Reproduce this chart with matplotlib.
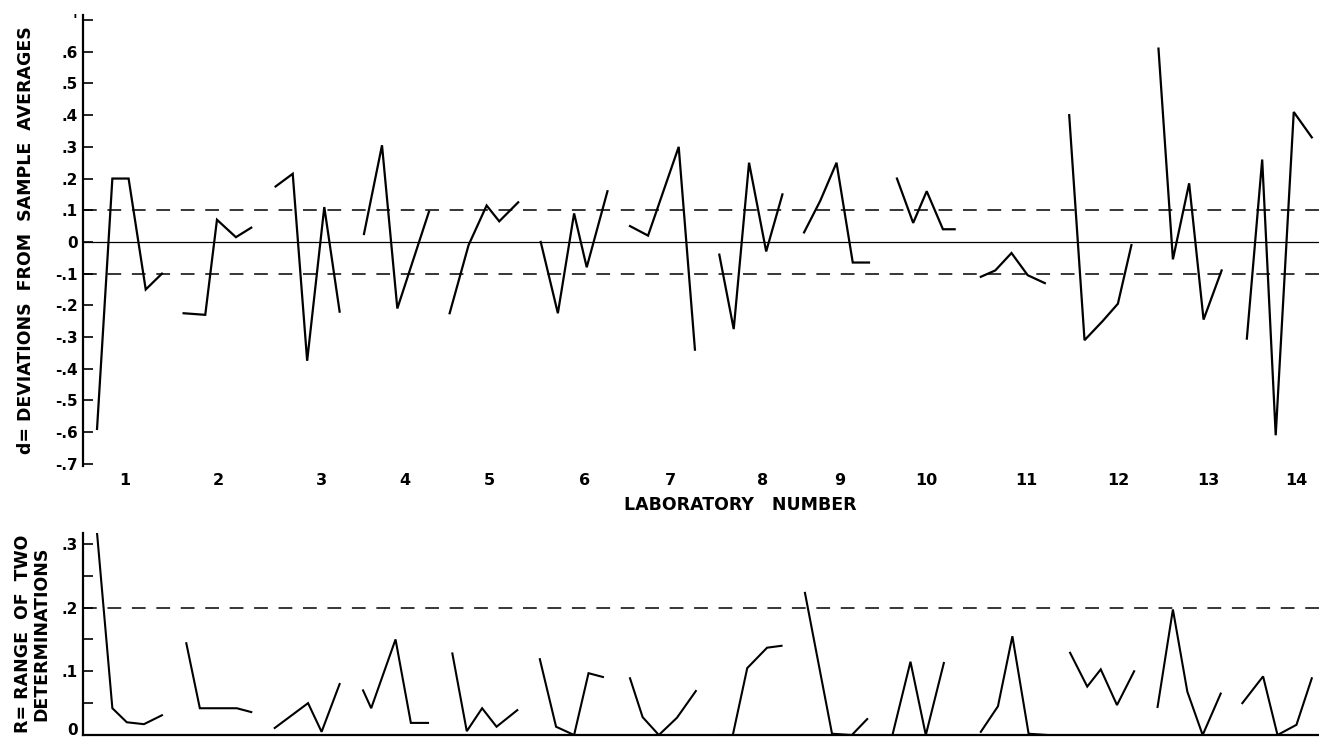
import numpy as np
import matplotlib
matplotlib.use('Agg')
import matplotlib.pyplot as plt
from matplotlib.transforms import ScaledTranslation

plt.rcParams.update({'font.family': 'DejaVu Sans', 'font.weight': 'bold'})

# laboratory tick positions (hand drawn, not evenly spaced) and labels
lab_pos = [1.0, 2.03, 3.18, 4.10, 5.04, 6.10, 7.05, 8.07, 8.93, 9.89,
           11.0, 12.01, 13.01, 13.99]
lab_labels = ['1', '2', '3', '4', '5', '6', '7', '8', '9', '10',
              '11', '12', '13', '14']

# d = deviations from sample averages, one list per laboratory
d_x = [[0.69, 0.86, 1.04, 1.23, 1.41],
       [1.65, 1.89, 2.02, 2.23, 2.40],
       [2.67, 2.86, 3.02, 3.21, 3.38],
       [3.65, 3.85, 4.02, 4.37],
       [4.60, 4.81, 5.01, 5.15, 5.36],
       [5.61, 5.80, 5.98, 6.12, 6.35],
       [6.60, 6.80, 7.14, 7.32],
       [7.59, 7.75, 7.92, 8.11, 8.29],
       [8.53, 8.71, 8.89, 9.07, 9.25],
       [9.56, 9.74, 9.89, 10.07, 10.20],
       [10.49, 10.65, 10.83, 11.01, 11.20],
       [11.47, 11.64, 11.84, 12.01, 12.16],
       [12.46, 12.62, 12.80, 12.96, 13.16],
       [13.44, 13.61, 13.76, 13.96, 14.16]]
d_vals = [[-0.59, 0.20, 0.20, -0.15, -0.10],
          [-0.225, -0.23, 0.07, 0.015, 0.045],
          [0.175, 0.215, -0.375, 0.11, -0.22],
          [0.025, 0.305, -0.21, 0.095],
          [-0.225, -0.01, 0.115, 0.065, 0.125],
          [0.0, -0.225, 0.09, -0.08, 0.16],
          [0.05, 0.02, 0.30, -0.34],
          [-0.04, -0.275, 0.25, -0.03, 0.15],
          [0.03, 0.13, 0.25, -0.065, -0.065],
          [0.20, 0.06, 0.16, 0.04, 0.04],
          [-0.11, -0.09, -0.035, -0.105, -0.13],
          [0.40, -0.31, -0.25, -0.195, -0.01],
          [0.61, -0.055, 0.185, -0.245, -0.09],
          [-0.305, 0.26, -0.61, 0.41, 0.33]]

# R = range of two determinations
r_x = [[0.69, 0.86, 1.02, 1.21, 1.41],
       [1.68, 1.83, 2.24, 2.40],
       [2.66, 3.03, 3.18, 3.38],
       [3.64, 3.73, 4.00, 4.17, 4.36],
       [4.63, 4.79, 4.96, 5.12, 5.35],
       [5.60, 5.78, 5.98, 6.14, 6.30],
       [6.60, 6.74, 6.92, 7.12, 7.33],
       [7.59, 7.74, 7.90, 8.12, 8.28],
       [8.54, 8.84, 9.06, 9.23],
       [9.51, 9.71, 9.88, 10.08],
       [10.49, 10.68, 10.84, 11.02, 11.23],
       [11.48, 11.67, 11.82, 12.00, 12.19],
       [12.45, 12.62, 12.78, 12.95, 13.15],
       [13.39, 13.62, 13.78, 13.99, 14.16]]
r_vals = [[0.317, 0.042, 0.020, 0.017, 0.031],
          [0.144, 0.042, 0.042, 0.036],
          [0.011, 0.050, 0.005, 0.080],
          [0.070, 0.042, 0.150, 0.019, 0.019],
          [0.128, 0.006, 0.042, 0.013, 0.039],
          [0.119, 0.013, 0.0, 0.097, 0.091],
          [0.089, 0.028, 0.0, 0.027, 0.069],
          [0.0, 0.0, 0.105, 0.137, 0.140],
          [0.223, 0.002, 0.0, 0.025],
          [0.0, 0.115, 0.0, 0.113],
          [0.005, 0.045, 0.155, 0.002, 0.0],
          [0.129, 0.076, 0.103, 0.047, 0.100],
          [0.044, 0.197, 0.068, 0.0, 0.065],
          [0.050, 0.092, 0.0, 0.016, 0.089]]

d_limit = 0.1
r_limit = 0.2

d_ticks = np.round(np.arange(-0.7, 0.71, 0.1), 1)
d_ticklabels = ['-.7', '-.6', '-.5', '-.4', '-.3', '-.2', '-.1', '0',
                '.1', '.2', '.3', '.4', '.5', '.6', "'"]
r_ticks = [0.0, 0.1, 0.2, 0.3]
r_ticklabels = ['0', '.1', '.2', '.3']
r_minor = [0.05, 0.15, 0.25]

xlim = [0.534, 14.24]
dash = (0, (9, 7))

fig = plt.figure(figsize=(13.19, 7.39), dpi=100)
ax1 = fig.add_axes([0.0629, 0.3694, 0.9371, 0.6103])
ax2 = fig.add_axes([0.0629, 0.0054, 0.9371, 0.2734])

# --- top panel: deviations
for xs, ys in zip(d_x, d_vals):
    ax1.plot(xs, ys, color='black', lw=1.6, solid_joinstyle='miter')
ax1.axhline(0, color='black', lw=0.9)
ax1.axhline(d_limit, color='black', lw=1.1, ls=dash)
ax1.axhline(-d_limit, color='black', lw=1.1, ls=dash)

ax1.set_xlim(xlim)
ax1.set_ylim(-0.707, 0.716)
for side in ['top', 'right', 'bottom']:
    ax1.spines[side].set_visible(False)
ax1.spines['left'].set_linewidth(1.6)
ax1.set_yticks(d_ticks)
ax1.set_yticklabels(d_ticklabels, fontsize=11, fontweight='bold')
ax1.tick_params(axis='y', direction='in', length=7, width=1.2, pad=4)
ax1.set_xticks(lab_pos)
ax1.set_xticklabels(lab_labels, fontsize=11.5, fontweight='bold')
ax1.tick_params(axis='x', length=0, pad=5)
ax1.set_ylabel('d= DEVIATIONS  FROM  SAMPLE  AVERAGES', fontsize=12.5,
               fontweight='bold', labelpad=14)
fig.text(0.561, 0.317, 'LABORATORY   NUMBER', ha='center', va='center',
         fontsize=12.5, fontweight='bold')

# --- bottom panel: ranges
for xs, ys in zip(r_x, r_vals):
    ax2.plot(xs, ys, color='black', lw=1.5, solid_joinstyle='miter')
ax2.axhline(r_limit, color='black', lw=1.1, ls=dash)

ax2.set_xlim(xlim)
ax2.set_ylim(0, 0.317)
for side in ['top', 'right']:
    ax2.spines[side].set_visible(False)
ax2.spines['left'].set_linewidth(1.6)
ax2.spines['bottom'].set_linewidth(1.6)
ax2.set_yticks(r_ticks)
ax2.set_yticklabels(r_ticklabels, fontsize=11, fontweight='bold')
ax2.set_yticks(r_minor, minor=True)
ax2.tick_params(axis='y', which='both', direction='in', length=7,
                width=1.2, pad=4)
ax2.set_xticks([])
ax2.set_ylabel('R= RANGE  OF  TWO\nDETERMINATIONS', fontsize=12.5,
               fontweight='bold', labelpad=8, linespacing=1.0)

# keep the "0" of the lower axis inside the figure
zero_lbl = ax2.get_yticklabels()[0]
zero_lbl.set_verticalalignment('bottom')
zero_lbl.set_transform(zero_lbl.get_transform() +
                       ScaledTranslation(0, -2 / 72, fig.dpi_scale_trans))

fig.savefig('out.png', dpi=100)
